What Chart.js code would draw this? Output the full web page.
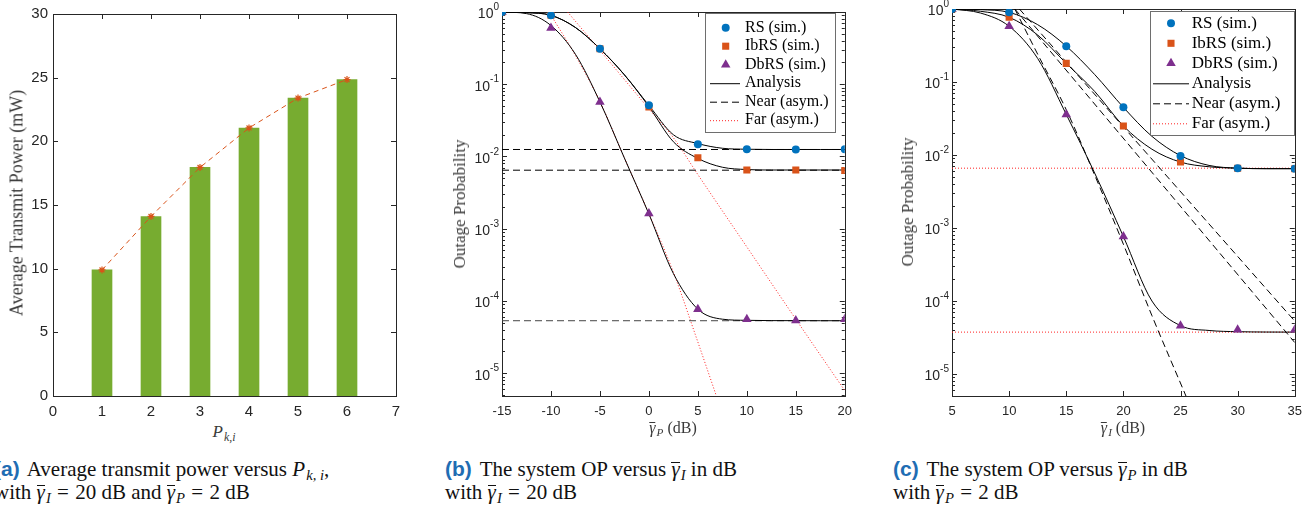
<!DOCTYPE html>
<html>
<head>
<meta charset="utf-8">
<script src="https://cdn.jsdelivr.net/npm/chart.js@4.4.1/dist/chart.umd.min.js"></script>
<style>
  body { margin: 0; width: 1316px; height: 507px; overflow: hidden; background: #fff; position: relative; }
  .box { position: absolute; top: 0; height: 420px; }
  .t { position: absolute; font-family: "Liberation Serif", serif; color: #3a3a3a; white-space: nowrap; }
  .yt { transform: translate(-50%, -50%) rotate(-90deg); }
  .xt { transform: translate(-50%, -50%); }
  .cap { position: absolute; top: 457px; font-family: "Liberation Serif", serif; font-size: 21px; line-height: 23px; color: #111; white-space: nowrap; }
  .lab { font-family: "Liberation Sans", sans-serif; font-weight: bold; color: #1f6db3; margin-right: 3px; }
  .eq { margin: 0 0.3em; }
  sub { font-size: 70%; line-height: 0; vertical-align: -0.3em; margin-left: 1px; }
  .bar { display: inline-block; font-style: italic; border-top: 1px solid currentColor; line-height: 0.6em; }
</style>
</head>
<body>
<div class="box" style="left:0;width:410px"><canvas id="chartA"></canvas></div>
<div class="box" style="left:440px;width:420px"><canvas id="chartB"></canvas></div>
<div class="box" style="left:890px;width:420px"><canvas id="chartC"></canvas></div>

<div class="t yt" style="left:17px;top:203px;font-size:18px">Average Transmit Power (mW)</div>
<div class="t yt" style="left:460px;top:204px;font-size:17px">Outage Probability</div>
<div class="t yt" style="left:908px;top:202px;font-size:17px">Outage Probability</div>
<div class="t xt" style="left:224px;top:432px;font-size:17px"><i>P</i><sub><i>k,i</i></sub></div>
<div class="t xt" style="left:673px;top:428px;font-size:16px"><span class="bar">γ</span><sub><i>P</i></sub> (dB)</div>
<div class="t xt" style="left:1123px;top:428px;font-size:16px"><span class="bar">γ</span><sub><i>I</i></sub> (dB)</div>

<div class="cap" style="left:-6px"><span class="lab">(a)</span> Average transmit power versus <i>P</i><sub><i>k, i</i></sub>,<br>with <span class="bar">γ</span><sub><i>I</i></sub><span class="eq">=</span>20 dB and <span class="bar">γ</span><sub><i>P</i></sub><span class="eq">=</span>2 dB</div>
<div class="cap" style="left:445px"><span class="lab">(b)</span> The system OP versus <span class="bar">γ</span><sub><i>I</i></sub> in dB<br>with <span class="bar">γ</span><sub><i>I</i></sub><span class="eq">=</span>20 dB</div>
<div class="cap" style="left:893px"><span class="lab">(c)</span> The system OP versus <span class="bar">γ</span><sub><i>P</i></sub> in dB<br>with <span class="bar">γ</span><sub><i>P</i></sub><span class="eq">=</span>2 dB</div>

<script>
// (a) 평균 송신 전력
const powerLevels = [1, 2, 3, 4, 5, 6]
const avgPower = [9.9, 14.1, 17.95, 21.05, 23.4, 24.85]

// (b) OP vs gamma_P
const gpSim = [-15, -10, -5, 0, 5, 10, 15, 20]
const rsSimB = [1.0, 0.9, 0.31, 0.051, 0.0148, 0.0126, 0.0125, 0.0126]
const ibSimB = [1.0, 0.9, 0.31, 0.0486, 0.0096, 0.0065, 0.0065, 0.0064]
const dbSimB = [1.0, 0.6, 0.057, 0.00163, 7.7e-5, 5.6e-5, 5.37e-5, 5.6e-5]
const gpAna = [-15, -12.5, -10, -7.5, -5, -2.5, 0, 2.5, 5, 7.5, 10, 12.5, 15, 17.5, 20]
const rsAnaB = [1.0, 0.98, 0.9, 0.61, 0.31, 0.135, 0.051, 0.020, 0.0151, 0.013, 0.0126, 0.0125, 0.0125, 0.0125, 0.0125]
const ibAnaB = [1.0, 0.98, 0.9, 0.61, 0.31, 0.135, 0.049, 0.016, 0.0094, 0.0071, 0.0066, 0.0065, 0.0065, 0.0065, 0.0065]
const dbAnaB = [1.0, 0.95, 0.65, 0.26, 0.057, 0.0095, 0.0016, 2.4e-4, 7.7e-5, 5.6e-5, 5.4e-5, 5.35e-5, 5.34e-5, 5.33e-5, 5.33e-5]
const nearLevelsB = [0.0125, 0.00646, 5.33e-5]
const farXB1 = [-8.3, -5, 0, 2.5, 5, 10, 15, 20]
const farYB1 = [1.0, 0.295, 0.0457, 0.0182, 0.00562, 5.6e-4, 5.6e-5, 5.75e-6]
const farXB2 = [-10.2, -7.5, -5, -2.5, 0, 2.5, 5, 6.9]
const farYB2 = [1.0, 0.25, 0.0575, 0.0095, 0.00162, 2.5e-4, 2.7e-5, 4.8e-6]

// (c) OP vs gamma_I
const giSim = [5, 10, 15, 20, 25, 30, 35]
const rsSimC = [1.0, 0.9, 0.31, 0.045, 0.0097, 0.0066, 0.0065]
const ibSimC = [1.0, 0.77, 0.18, 0.025, 0.0080, 0.0066, 0.0065]
const dbSimC = [1.0, 0.58, 0.036, 7.65e-4, 4.6e-5, 4.05e-5, 4.05e-5]
const giAna = [5, 7.5, 10, 12.5, 15, 17.5, 20, 22.5, 25, 27.5, 30, 32.5, 35]
const rsAnaC = [1.0, 0.98, 0.9, 0.61, 0.31, 0.126, 0.045, 0.018, 0.0098, 0.0072, 0.0066, 0.0065, 0.0065]
const ibAnaC = [1.0, 0.93, 0.77, 0.44, 0.18, 0.074, 0.025, 0.012, 0.0080, 0.0069, 0.0066, 0.0065, 0.0065]
const dbAnaC = [1.0, 0.88, 0.58, 0.21, 0.036, 0.0056, 7.65e-4, 1.0e-4, 4.6e-5, 3.95e-5, 3.8e-5, 3.76e-5, 3.75e-5]
const farLevelsC = [0.0066, 3.75e-5]
const nearXC1 = [10.9, 35]
const nearYC1 = [1.0, 5.3e-5]
const nearXC2 = [10.5, 35]
const nearYC2 = [1.0, 2.7e-5]
const nearXC3 = [10.5, 12.5, 15, 17.5, 20, 22.5, 25.5]
const nearYC3 = [1.0, 0.24, 0.0417, 0.00525, 6.0e-4, 6.3e-5, 4.9e-6]

// 축 눈금
const decadeExps = [-5, -4, -3, -2, -1, 0]

const BLUE = '#0072BD', ORANGE = '#D95319', PURPLE = '#7E2F8E', GREEN = '#77AC30'
const DASH = [7, 4], DOT = [1, 2]

Chart.defaults.font.family = '"Liberation Sans", Arial, sans-serif'
Chart.defaults.color = '#262626'

const pts = (xs, ys) => xs.map((x, i) => ({ x, y: ys[i] }))
const hline = (x0, x1, v) => [{ x: x0, y: v }, { x: x1, y: v }]

const sim = (label, data, color, style, r) => ({
  label, data, legend: true, showLine: false,
  pointStyle: style, pointRadius: r, pointHoverRadius: r, pointBorderWidth: 0,
  backgroundColor: color, borderColor: color
})
const curve = (data, dash, color, label) => ({
  label: label || '', legend: !!label, data,
  borderColor: color, borderWidth: 1, borderDash: dash,
  pointRadius: 0, cubicInterpolationMode: 'monotone', fill: false
})

// 상자 + 안쪽 눈금, 로그축 라벨
const framePlugin = {
  id: 'frame',
  beforeDatasetsDraw(chart, args, o) {
    const { ctx, chartArea: a } = chart
    const { x, y } = chart.scales
    const len = o.len || 5
    ctx.save()
    ctx.strokeStyle = '#262626'
    ctx.lineWidth = 1
    ctx.beginPath()
    const seg = (x0, y0, x1, y1) => { ctx.moveTo(x0, y0); ctx.lineTo(x1, y1) }
    x.ticks.forEach(t => {
      const px = Math.round(x.getPixelForValue(t.value)) + 0.5
      seg(px, a.bottom, px, a.bottom - len)
      seg(px, a.top, px, a.top + len)
    })
    if (y.type === 'logarithmic') {
      for (let e = -6; e <= 0; e++) {
        for (let k = 1; k <= 9; k++) {
          const v = k * Math.pow(10, e)
          if (v < y.min * 0.999 || v > y.max * 1.001) continue
          const py = Math.round(y.getPixelForValue(v)) + 0.5
          const l = k === 1 ? len : len * 0.6
          seg(a.left, py, a.left + l, py)
          seg(a.right, py, a.right - l, py)
        }
      }
    } else {
      y.ticks.forEach(t => {
        const py = Math.round(y.getPixelForValue(t.value)) + 0.5
        seg(a.left, py, a.left + len, py)
        seg(a.right, py, a.right - len, py)
      })
    }
    ctx.stroke()
    ctx.strokeRect(Math.round(a.left) + 0.5, Math.round(a.top) + 0.5, Math.round(a.right - a.left), Math.round(a.bottom - a.top))

    if (y.type === 'logarithmic') {
      ctx.fillStyle = '#262626'
      ctx.textBaseline = 'middle'
      ctx.textAlign = 'left'
      decadeExps.forEach(e => {
        const py = y.getPixelForValue(Math.pow(10, e))
        const ex = String(e)
        ctx.font = '10px "Liberation Sans"'
        const we = ctx.measureText(ex).width
        ctx.font = '14px "Liberation Sans"'
        const wb = ctx.measureText('10').width
        const xr = a.left - 3
        ctx.fillText('10', xr - we - wb, py + 2.5)
        ctx.font = '10px "Liberation Sans"'
        ctx.fillText(ex, xr - we, py - 4.5)
      })
    }
    ctx.restore()
  }
}

// MATLAB 스타일 범례 상자
const legendPlugin = {
  id: 'boxLegend',
  afterDatasetsDraw(chart, args, o) {
    if (!o.w) return
    const { ctx } = chart
    ctx.save()
    ctx.fillStyle = '#fff'
    ctx.fillRect(o.x, o.y, o.w, o.h)
    ctx.strokeStyle = '#6e6e6e'
    ctx.lineWidth = 1
    ctx.setLineDash([])
    ctx.strokeRect(o.x + 0.5, o.y + 0.5, o.w, o.h)
    ctx.textBaseline = 'middle'
    ctx.textAlign = 'left'
    chart.data.datasets.filter(d => d.legend).forEach((d, i) => {
      const ry = o.row0 + i * o.rowH
      if (d.showLine === false) {
        ctx.fillStyle = d.backgroundColor
        Chart.helpers.drawPoint(ctx, { pointStyle: d.pointStyle, radius: d.pointRadius, rotation: 0, borderWidth: 0 }, o.mx, ry)
      } else {
        ctx.beginPath()
        ctx.setLineDash(d.borderDash || [])
        ctx.strokeStyle = d.borderColor
        ctx.lineWidth = 1
        ctx.moveTo(o.lx0, ry + 0.5)
        ctx.lineTo(o.lx1, ry + 0.5)
        ctx.stroke()
        ctx.setLineDash([])
      }
      ctx.fillStyle = '#000'
      ctx.font = o.font
      ctx.fillText(d.label, o.tx, ry)
    })
    ctx.restore()
  }
}

function logChart(id, xmin, xmax, ymin, pad, datasets, legend) {
  return new Chart(document.getElementById(id), {
    type: 'line',
    data: { datasets },
    plugins: [framePlugin, legendPlugin],
    options: {
      responsive: true,
      maintainAspectRatio: false,
      animation: false,
      events: [],
      layout: { padding: pad },
      plugins: { legend: { display: false }, tooltip: { enabled: false }, frame: { len: 5 }, boxLegend: legend },
      scales: {
        x: {
          type: 'linear', min: xmin, max: xmax,
          grid: { display: false, drawTicks: false }, border: { display: false },
          ticks: { stepSize: 5, padding: 8, font: { size: 13 }, maxRotation: 0 },
          afterFit: s => { s.height = 24 }
        },
        y: {
          type: 'logarithmic', min: ymin, max: 1,
          grid: { display: false, drawTicks: false }, border: { display: false },
          ticks: { display: false },
          afterFit: s => { s.width = 62 }
        }
      }
    }
  })
}

// (a)
new Chart(document.getElementById('chartA'), {
  type: 'bar',
  data: {
    datasets: [
      {
        type: 'line', data: pts(powerLevels, avgPower),
        borderColor: ORANGE, borderWidth: 1, borderDash: [5, 4],
        pointStyle: 'star', pointRadius: 3.5, pointBorderColor: ORANGE, pointBorderWidth: 1.2, backgroundColor: ORANGE
      },
      { type: 'bar', data: pts(powerLevels, avgPower), backgroundColor: GREEN, barThickness: 20 }
    ]
  },
  plugins: [framePlugin],
  options: {
    responsive: true,
    maintainAspectRatio: false,
    animation: false,
    events: [],
    layout: { padding: { left: 0, right: 14, top: 12, bottom: 0 } },
    plugins: { legend: { display: false }, tooltip: { enabled: false }, frame: { len: 5 } },
    scales: {
      x: {
        type: 'linear', min: 0, max: 7, offset: false,
        grid: { display: false, drawTicks: false }, border: { display: false },
        ticks: { stepSize: 1, padding: 7, font: { size: 15 }, maxRotation: 0 },
        afterFit: s => { s.height = 24 }
      },
      y: {
        min: 0, max: 30,
        grid: { display: false, drawTicks: false }, border: { display: false },
        ticks: { stepSize: 5, padding: 5, font: { size: 15 } },
        afterFit: s => { s.width = 53 }
      }
    }
  }
})

// (b)
logChart('chartB', -15, 20, 4.84e-6, { left: 0, right: 15, top: 12, bottom: 0 }, [
  sim('RS (sim.)', pts(gpSim, rsSimB), BLUE, 'circle', 4),
  sim('IbRS (sim.)', pts(gpSim, ibSimB), ORANGE, 'rect', 5),
  sim('DbRS (sim.)', pts(gpSim, dbSimB), PURPLE, 'triangle', 5.5),
  curve(pts(gpAna, rsAnaB), [], '#000', 'Analysis'),
  curve(pts(gpAna, ibAnaB), [], '#000'),
  curve(pts(gpAna, dbAnaB), [], '#000'),
  curve(hline(-15, 20, nearLevelsB[0]), DASH, '#000', 'Near (asym.)'),
  curve(hline(-15, 20, nearLevelsB[1]), DASH, '#000'),
  curve(hline(-15, 20, nearLevelsB[2]), DASH, '#444'),
  curve(pts(farXB1, farYB1), DOT, '#ff2020', 'Far (asym.)'),
  curve(pts(farXB2, farYB2), DOT, '#ff2020')
], { x: 265, y: 13, w: 130, h: 119, row0: 27.7, rowH: 18.5, mx: 285.7, lx0: 270, lx1: 300, tx: 305, font: '16px "Liberation Serif"' })

// (c)
logChart('chartC', 5, 35, 5.0e-6, { left: 0, right: 15, top: 9, bottom: 0 }, [
  sim('RS (sim.)', pts(giSim, rsSimC), BLUE, 'circle', 4),
  sim('IbRS (sim.)', pts(giSim, ibSimC), ORANGE, 'rect', 5),
  sim('DbRS (sim.)', pts(giSim, dbSimC), PURPLE, 'triangle', 5.5),
  curve(pts(giAna, rsAnaC), [], '#000', 'Analysis'),
  curve(pts(giAna, ibAnaC), [], '#000'),
  curve(pts(giAna, dbAnaC), [], '#000'),
  curve(pts(nearXC1, nearYC1), DASH, '#000', 'Near (asym.)'),
  curve(pts(nearXC2, nearYC2), DASH, '#000'),
  curve(pts(nearXC3, nearYC3), DASH, '#000'),
  curve(hline(5, 35, farLevelsC[0]), DOT, '#ff2020', 'Far (asym.)'),
  curve(hline(5, 35, farLevelsC[1]), DOT, '#ff2020')
], { x: 260, y: 11, w: 144, h: 124, row0: 23.3, rowH: 20, mx: 281, lx0: 263, lx1: 299, tx: 301.7, font: '17px "Liberation Serif"' })
</script>
</body>
</html>
